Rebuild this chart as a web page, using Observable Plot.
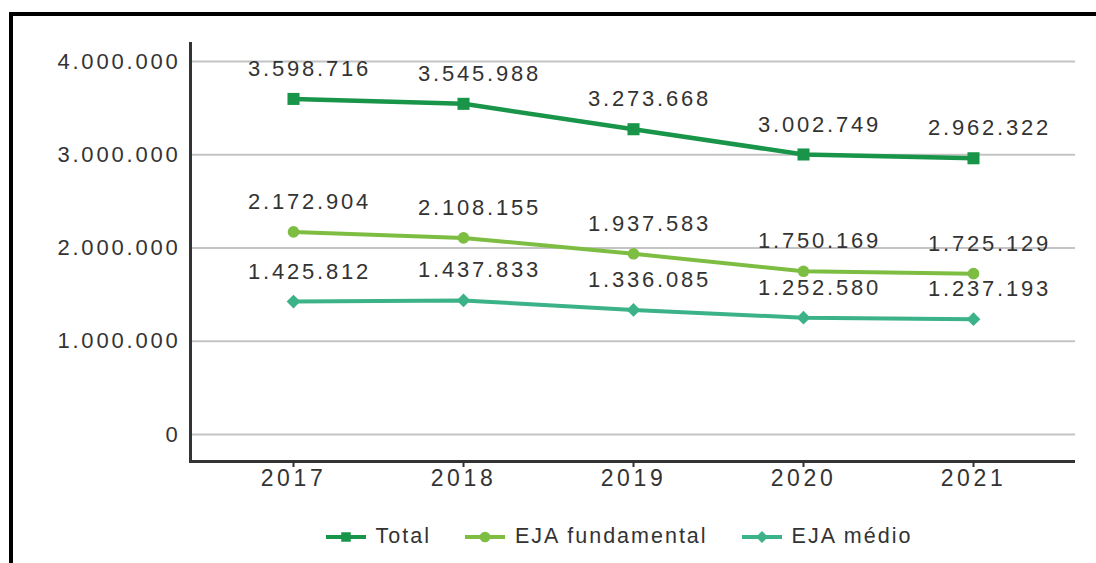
<!DOCTYPE html>
<html>
<head>
<meta charset="utf-8">
<script src="https://cdn.jsdelivr.net/npm/d3@7"></script>
<script src="https://cdn.jsdelivr.net/npm/@observablehq/plot@0.6"></script>
<style>
  html, body { margin: 0; padding: 0; background: #fff; overflow: hidden; width: 1096px; height: 563px; }
  body { position: relative; font-family: "Liberation Sans", Arial, sans-serif; }
  #border { position: absolute; left: 9px; top: 12px; width: 1200px; height: 700px; border-left: 4px solid #000; border-top: 4px solid #000; box-sizing: border-box; }
  #chart { position: absolute; left: 0; top: 0; }
  #chart svg text { fill: #333; }
  #legend { position: absolute; left: 0; top: 505px; width: 1096px; height: 63px; box-sizing: border-box; padding-left: 142px;
    display: flex; justify-content: center; align-items: center; font-size: 21.5px; letter-spacing: 2px; color: #333; }
  .item { display: flex; align-items: center; margin: 0 17px; }
  .item svg { margin-right: 10px; }
</style>
</head>
<body>
<div id="border"></div>
<div id="chart"></div>
<div id="legend"></div>
<script>
const years = [2017, 2018, 2019, 2020, 2021];
const total = [3598716, 3545988, 3273668, 3002749, 2962322];
const fundamental = [2172904, 2108155, 1937583, 1750169, 1725129];
const medio = [1425812, 1437833, 1336085, 1252580, 1237193];
const seriesNames = ["Total", "EJA fundamental", "EJA médio"];
const seriesColors = ["#189548", "#7dbd42", "#3bb287"];
const seriesSymbols = ["square", "circle", "diamond2"];
const yTicks = [0, 1000000, 2000000, 3000000, 4000000];

const fmt = d => d3.format(",")(d).replace(/,/g, ".");
const allSeries = [total, fundamental, medio];
const data = allSeries.flatMap((vals, i) => vals.map((v, j) => ({ year: years[j], value: v, series: seriesNames[i] })));

const yMin = -289500, yMax = 4193000;
const sizes = { "Total": 6.8, "EJA fundamental": 5.8, "EJA médio": 6.2 };
const widths = { "Total": 4.5, "EJA fundamental": 4, "EJA médio": 4 };

const marks = [
  Plot.ruleY(yTicks, { stroke: "#c4c4c4", strokeWidth: 2 }),
  Plot.ruleY([yMin], { stroke: "#333", strokeWidth: 3 }),
  Plot.frame({ anchor: "left", stroke: "#333", strokeWidth: 3 }),
  Plot.axisY(yTicks, { tickSize: 0, tickPadding: 10, tickFormat: fmt, fontSize: 22, label: null }),
  Plot.axisX({ tickSize: 6, tickPadding: 2, tickFormat: d => String(d), fontSize: 23, label: null, stroke: "#333", strokeWidth: 2 })
];
seriesNames.forEach((name, i) => {
  const d = data.filter(r => r.series === name);
  marks.push(Plot.line(d, { x: "year", y: "value", stroke: seriesColors[i], strokeWidth: widths[name] }));
  marks.push(Plot.dot(d, { x: "year", y: "value", fill: seriesColors[i], symbol: seriesSymbols[i], r: sizes[name] }));
  marks.push(Plot.text(d, { x: "year", y: "value", text: r => fmt(r.value), dx: 16, dy: -30, fontSize: 22 }));
});

const chart = Plot.plot({
  width: 1096,
  height: 500,
  marginLeft: 190,
  marginRight: 21,
  marginTop: 43,
  marginBottom: 39,
  style: { fontFamily: "Liberation Sans, Arial, sans-serif", background: "transparent", overflow: "visible" },
  x: { type: "point", domain: years, padding: 0.6 },
  y: { domain: [yMin, yMax] },
  marks
});
d3.select(chart).selectAll("text").attr("letter-spacing", "2.8px");
d3.select(chart).selectAll("[aria-label='x-axis tick label'] text").attr("letter-spacing", "3.6px");
document.getElementById("chart").appendChild(chart);

const legend = document.getElementById("legend");
seriesNames.forEach((name, i) => {
  const item = document.createElement("div");
  item.className = "item";
  const sym = d3.create("svg").attr("width", 40).attr("height", 20);
  sym.append("line").attr("x1", 0).attr("x2", 40).attr("y1", 10).attr("y2", 10)
    .attr("stroke", seriesColors[i]).attr("stroke-width", 4);
  sym.append("path").attr("transform", "translate(20,10)")
    .attr("d", d3.symbol(i === 0 ? d3.symbolSquare : i === 1 ? d3.symbolCircle : d3.symbolDiamond2, 90)())
    .attr("fill", seriesColors[i]);
  item.appendChild(sym.node());
  const label = document.createElement("span");
  label.textContent = name;
  item.appendChild(label);
  legend.appendChild(item);
});
</script>
</body>
</html>
